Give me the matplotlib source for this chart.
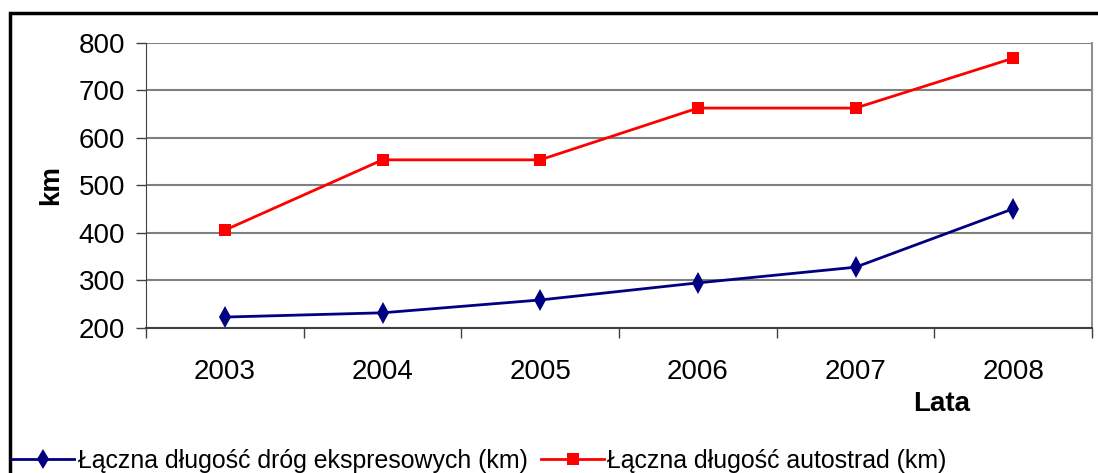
import matplotlib
matplotlib.use("Agg")
import matplotlib.pyplot as plt
from matplotlib.patches import Rectangle
from matplotlib.lines import Line2D
import numpy as np

years = ["2003", "2004", "2005", "2006", "2007", "2008"]
ekspresowe = [223, 232, 259, 295, 328, 451]
autostrady = [406, 554, 554, 663, 663, 768]
yticks = [200, 300, 400, 500, 600, 700, 800]
label_eks = "Łączna długość dróg ekspresowych (km)"
label_aut = "Łączna długość autostrad (km)"

plt.rcParams['font.family'] = ['Liberation Sans', 'DejaVu Sans']

fig = plt.figure(figsize=(10.98, 4.73), dpi=100)
W, H = 1098, 473
ax = fig.add_axes([146 / W, 1 - 328 / H, (1092 - 146) / W, (328 - 43) / H])

x = np.arange(len(years))
ax.plot(x, ekspresowe, color="#000080", lw=2, marker="d", markersize=11,
        markeredgewidth=0, label=label_eks)
ax.plot(x, autostrady, color="#ff0000", lw=2, marker="s", markersize=8.5,
        markeredgewidth=0, label=label_aut)

ax.set_xlim(-0.5, len(years) - 0.5)
ax.set_ylim(200, 800)
ax.set_yticks(yticks)
ax.set_yticklabels([str(v) for v in yticks], fontsize=20)
ax.set_xticks(x)
ax.set_xticklabels(years, fontsize=20)
ax.set_xticks(np.arange(-0.5, len(years), 1.0), minor=True)
ax.tick_params(axis="x", which="major", length=0, pad=22)
ax.tick_params(axis="x", which="minor", length=7, width=1, color="#404040", direction="out")
ax.tick_params(axis="y", length=7, width=1, color="#404040", direction="out", pad=8)

ax.grid(axis="y", color="#808080", lw=1.5)
ax.set_axisbelow(True)
ax.spines["top"].set_visible(False)
ax.spines["left"].set_color("#404040")
ax.spines["bottom"].set_color("#404040")
ax.spines["bottom"].set_linewidth(1.5)
ax.spines["right"].set_color("#909090")
ax.spines["right"].set_linewidth(1.5)

fig.text(51 / W, 1 - 185 / H, "km", rotation=90, fontsize=20, fontweight="bold",
         ha="center", va="center")
fig.text(942 / W, 1 - 404 / H, "Lata", fontsize=20, fontweight="bold",
         ha="center", va="center")

# outer frame
fig.patches.append(Rectangle((10 / W, -0.05), 1.2, 1 - 13 / H + 0.05,
                             transform=fig.transFigure, fill=False,
                             edgecolor="black", lw=2.5))

handles = [Line2D([0], [0], color="#000080", lw=2, marker="d", markersize=10, markeredgewidth=0),
           Line2D([0], [0], color="#ff0000", lw=2, marker="s", markersize=8, markeredgewidth=0)]
fig.legend(handles, [label_eks, label_aut], loc="center left",
           bbox_to_anchor=(12 / W, 1 - 461 / H), ncol=2, frameon=False,
           fontsize=17.9, handlelength=2.5, handletextpad=0.15, columnspacing=0.55,
           borderaxespad=0, borderpad=0)

fig.savefig("out.png", dpi=100)
